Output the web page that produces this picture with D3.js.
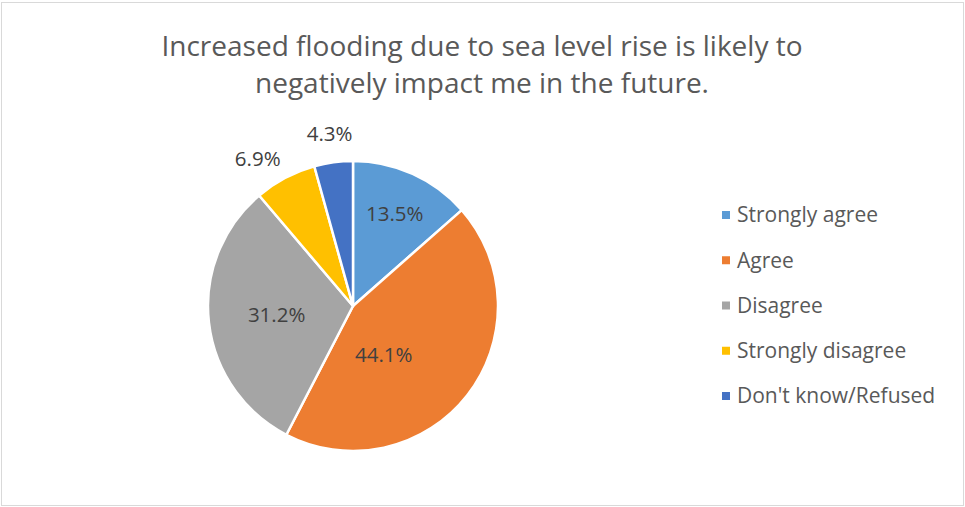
<!DOCTYPE html>
<html><head><meta charset="utf-8">
<script src="https://cdn.jsdelivr.net/npm/d3@7"></script>
<style>body{margin:0;background:#fff}svg{display:block}text{font-family:"Open Sans","Noto Sans",sans-serif}</style>
</head><body>
<svg id="c" width="965" height="507"></svg>
<script>
const categories = ["Strongly agree","Agree","Disagree","Strongly disagree","Don't know/Refused"];
const values = [13.5, 44.1, 31.2, 6.9, 4.3];
const labels = ["13.5%","44.1%","31.2%","6.9%","4.3%"];
const colors = ["#5B9BD5","#ED7D31","#A5A5A5","#FFC000","#4472C4"];
const titleLines = ["Increased flooding due to sea level rise is likely to","negatively impact me in the future."];

const svg = d3.select("#c");
svg.append("rect").attr("x",1.5).attr("y",2.5).attr("width",962).attr("height",503)
  .attr("fill","#fff").attr("stroke","#d9d9d9").attr("stroke-width",1);

svg.append("g").selectAll("text").data(titleLines).join("text")
  .attr("x",482).attr("y",(d,i)=>56+i*37).attr("text-anchor","middle")
  .attr("font-size",28).attr("fill","#595959").text(d=>d);

const cx=353, cy=306, R=145;
const pie = d3.pie().sort(null).value(d=>d)(values);
const arc = d3.arc().innerRadius(0).outerRadius(R);
const g = svg.append("g").attr("transform",`translate(${cx},${cy})`);
g.selectAll("path").data(pie).join("path").attr("d",arc)
  .attr("fill",(d,i)=>colors[i]).attr("stroke","#fff").attr("stroke-width",2.5).attr("stroke-linejoin","round");

const labelFactor = [0.70, 0.40, 0.53, 1.21, 1.20];
const labelShift = [0, 20, 0, -5, 0].map(a=>a*Math.PI/180);
g.selectAll("text.lab").data(pie).join("text").attr("class","lab")
  .attr("transform",(d,i)=>{const r=R*labelFactor[i]; const a=(d.startAngle+d.endAngle)/2+labelShift[i]; return `translate(${r*Math.sin(a)},${-r*Math.cos(a)})`;})
  .attr("text-anchor","middle").attr("dy","0.35em")
  .attr("font-size",20.5).attr("fill","#404040").text((d,i)=>labels[i]);

const y = d3.scalePoint().domain(categories).range([215,396]);
const lg = svg.append("g").selectAll("g").data(categories).join("g")
  .attr("transform",d=>`translate(722,${y(d)})`);
lg.append("rect").attr("x",0).attr("y",-4).attr("width",8).attr("height",8).attr("fill",(d,i)=>colors[i]);
lg.append("text").attr("x",15).attr("dy","0.35em").attr("font-size",21).attr("fill","#595959").text(d=>d);
</script>
</body></html>
